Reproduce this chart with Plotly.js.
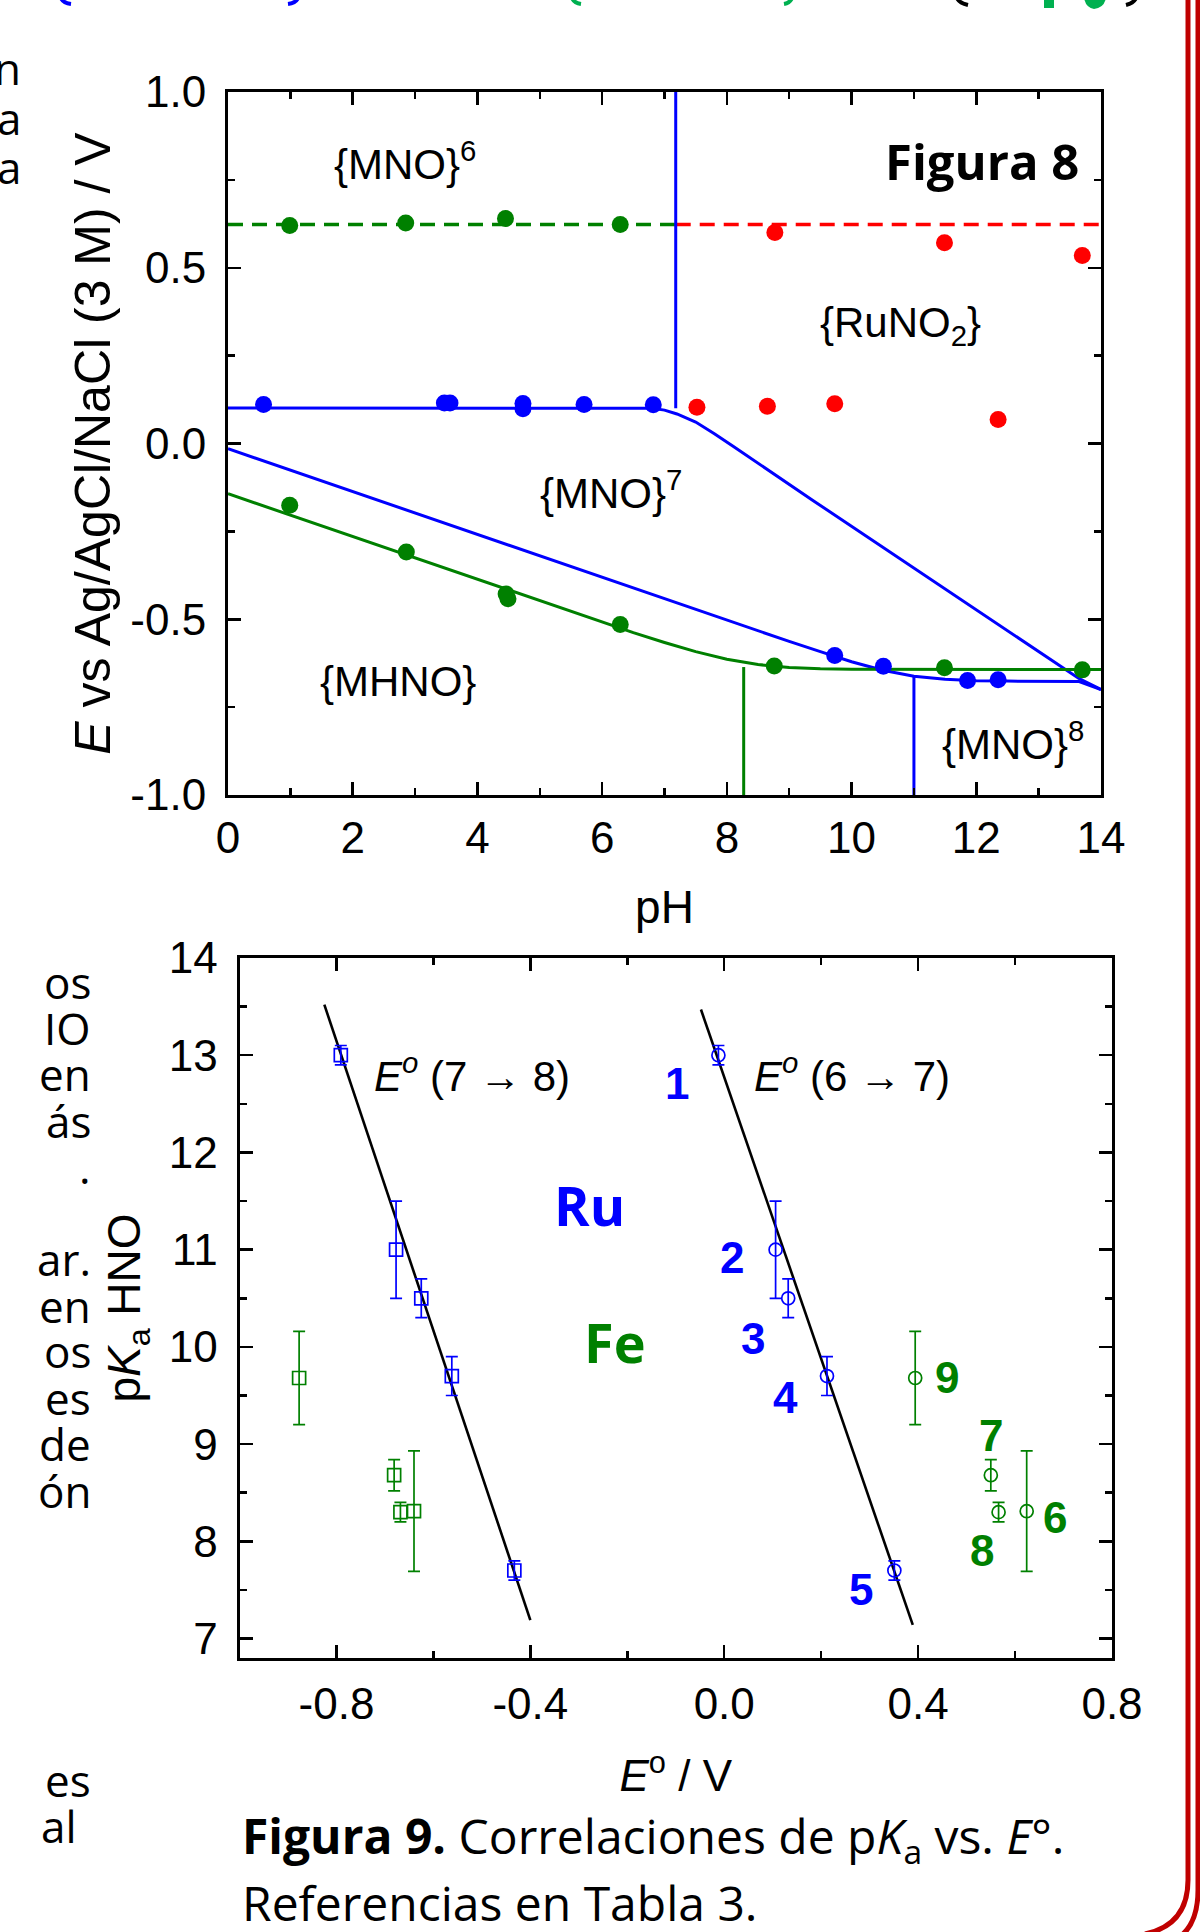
<!DOCTYPE html>
<html>
<head>
<meta charset="utf-8">
<script src="https://cdn.plot.ly/plotly-3.0.1.min.js"></script>
<style>html,body{margin:0;padding:0;background:#fff;}#chart{width:1200px;height:1932px;}</style>
</head>
<body>
<div id="chart"></div>
<script>
// ---------- Figura 8 data (pH vs E) ----------
const f8_xTicks = [0, 2, 4, 6, 8, 10, 12, 14];
const f8_xTickText = ['0', '2', '4', '6', '8', '10', '12', '14'];
const f8_yTicks = [-1, -0.5, 0, 0.5, 1];
const f8_yTickText = ['-1.0', '-0.5', '0.0', '0.5', '1.0'];

const mno6Dash_pH = [0, 7.18];
const mno6Dash_E = [0.623, 0.623];
const runo2Dash_pH = [7.18, 14];
const runo2Dash_E = [0.623, 0.623];

const blueVert1_pH = [7.18, 7.18];
const blueVert1_E = [1.0, 0.10];
const blueUpper_pH = [0, 6.8, 7.0, 7.2, 7.5, 7.8, 8.1, 8.43, 9.38, 13.64, 14];
const blueUpper_E = [0.101, 0.100, 0.095, 0.084, 0.061, 0.028, -0.008, -0.048, -0.162, -0.668, -0.700];
const blueLower_pH = [0, 2, 4, 6, 8, 9, 9.5, 10, 10.5, 11, 11.5, 12, 12.5, 13, 13.65, 14];
const blueLower_E = [-0.015, -0.137, -0.259, -0.381, -0.503, -0.563, -0.592, -0.621, -0.645, -0.662, -0.671, -0.675, -0.676, -0.677, -0.677, -0.700];
const blueVert2_pH = [11.0, 11.0];
const blueVert2_E = [-0.663, -1.0];

const greenLower_pH = [0, 1, 2, 3, 4, 5, 6, 6.5, 7, 7.5, 8, 8.5, 9, 9.5, 10, 11, 12, 13, 14];
const greenLower_E = [-0.143, -0.204, -0.265, -0.326, -0.387, -0.448, -0.509, -0.538, -0.566, -0.592, -0.614, -0.629, -0.637, -0.641, -0.642, -0.643, -0.643, -0.643, -0.643];
const greenVert_pH = [8.27, 8.27];
const greenVert_E = [-0.636, -1.0];

const greenUpperPts_pH = [0.99, 2.85, 4.45, 6.29];
const greenUpperPts_E = [0.620, 0.627, 0.640, 0.623];
const redUpperPts_pH = [8.77, 11.49, 13.70];
const redUpperPts_E = [0.600, 0.571, 0.535];
const redLowerPts_pH = [7.52, 8.65, 9.73, 12.35];
const redLowerPts_E = [0.103, 0.106, 0.113, 0.068];
const blueUpperPts_pH = [0.57, 3.47, 3.56, 4.73, 4.73, 5.71, 6.82];
const blueUpperPts_E = [0.111, 0.115, 0.115, 0.114, 0.099, 0.111, 0.110];
const blueLowerPts_pH = [9.73, 10.51, 11.86, 12.35];
const blueLowerPts_E = [-0.603, -0.634, -0.674, -0.672];
const greenLowerPts_pH = [0.99, 2.86, 4.46, 4.49, 6.29, 8.76, 11.49, 13.70];
const greenLowerPts_E = [-0.176, -0.309, -0.428, -0.442, -0.515, -0.633, -0.638, -0.644];

// ---------- Figura 9 data (E° vs pKa) ----------
const f9_xTicks = [-0.8, -0.4, 0, 0.4, 0.8];
const f9_xTickText = ['-0.8', '-0.4', '0.0', '0.4', '0.8'];
const f9_yTicks = [7, 8, 9, 10, 11, 12, 13, 14];
const f9_yTickText = ['7', '8', '9', '10', '11', '12', '13', '14'];

const ru_pKa = [13.0, 11.0, 10.5, 9.7, 7.7];
const ru_err = [0.1, 0.5, 0.2, 0.2, 0.1];
const ru_E78 = [-0.791, -0.677, -0.625, -0.562, -0.433];
const ru_E67 = [-0.012, 0.106, 0.132, 0.212, 0.351];
const fe_pKa = [9.68, 8.68, 8.30, 8.31];
const fe_err = [0.48, 0.16, 0.10, 0.62];
const fe_E78 = [-0.877, -0.681, -0.668, -0.640];
const fe_E67 = [0.394, 0.550, 0.566, 0.624];
const fit78_E = [-0.825, -0.400];
const fit78_pKa = [13.52, 7.19];
const fit67_E = [-0.048, 0.389];
const fit67_pKa = [13.47, 7.14];

const ruLabels = ['1', '2', '3', '4', '5'];
const ruLabel_E = [-0.098, 0.017, 0.060, 0.127, 0.283];
const ruLabel_pKa = [12.71, 10.92, 10.09, 9.48, 7.50];
const feLabels = ['9', '7', '6', '8'];
const feLabel_E = [0.46, 0.551, 0.682, 0.531];
const feLabel_pKa = [9.69, 9.09, 8.25, 7.91];

// page text fragments at the left edge (ends of the page's text lines)
const fragTop = ['n', 'a', 'a'];
const fragTopY = [68, 118, 167];
const fragLow = ['os', 'IO', 'en', 'ás', '.', 'ar.', 'en', 'os', 'es', 'de', 'ón', 'es', 'al'];
const fragLowY = [982, 1028, 1074, 1121, 1167, 1259, 1306, 1351, 1398, 1444, 1491, 1780, 1826];
const fragLowRight = [92, 92, 92, 92, 92, 92, 92, 92, 92, 92, 92, 92, 78];

// ---------- helpers ----------
const W = 1200, H = 1932;
const px = x => x / W;
const py = y => 1 - y / H;
const ARIAL = '"Liberation Sans", Arial, sans-serif';
const OPEN = '"Open Sans", "Noto Sans", sans-serif';
const BLUE = '#0000ff', GREEN = '#008000', RED = '#ff0000';

function line(x, y, color, xa, ya, dash, width) {
  return {x: x, y: y, type: 'scatter', mode: 'lines', xaxis: xa, yaxis: ya,
    line: {color: color, width: width || 3, dash: dash || 'solid'}, hoverinfo: 'skip'};
}
function dots(x, y, color) {
  return {x: x, y: y, type: 'scatter', mode: 'markers', xaxis: 'x', yaxis: 'y',
    marker: {color: color, size: 17, line: {width: 0}}};
}
function errPts(x, y, err, color, symbol) {
  return {x: x, y: y, type: 'scatter', mode: 'markers', xaxis: 'x2', yaxis: 'y2',
    marker: {symbol: symbol, size: 13, color: color, line: {color: color, width: 1.7}},
    error_y: {type: 'data', array: err, visible: true, color: color, thickness: 1.7, width: 6}};
}

const traces = [
  line(mno6Dash_pH, mno6Dash_E, GREEN, 'x', 'y', '15px,9px', 3.5),
  line(runo2Dash_pH, runo2Dash_E, RED, 'x', 'y', '15px,9px', 3.5),
  line(blueVert1_pH, blueVert1_E, BLUE, 'x', 'y'),
  line(blueUpper_pH, blueUpper_E, BLUE, 'x', 'y'),
  line(blueLower_pH, blueLower_E, BLUE, 'x', 'y'),
  line(blueVert2_pH, blueVert2_E, BLUE, 'x', 'y'),
  line(greenLower_pH, greenLower_E, GREEN, 'x', 'y'),
  line(greenVert_pH, greenVert_E, GREEN, 'x', 'y'),
  dots(greenUpperPts_pH, greenUpperPts_E, GREEN),
  dots(redUpperPts_pH, redUpperPts_E, RED),
  dots(redLowerPts_pH, redLowerPts_E, RED),
  dots(blueUpperPts_pH, blueUpperPts_E, BLUE),
  dots(blueLowerPts_pH, blueLowerPts_E, BLUE),
  dots(greenLowerPts_pH, greenLowerPts_E, GREEN),
  line(fit78_E, fit78_pKa, '#000000', 'x2', 'y2', 'solid', 2.6),
  line(fit67_E, fit67_pKa, '#000000', 'x2', 'y2', 'solid', 2.6),
  errPts(ru_E78, ru_pKa, ru_err, BLUE, 'square-open'),
  errPts(fe_E78, fe_pKa, fe_err, GREEN, 'square-open'),
  errPts(ru_E67, ru_pKa, ru_err, BLUE, 'circle-open'),
  errPts(fe_E67, fe_pKa, fe_err, GREEN, 'circle-open')
];

function axisBase(extra) {
  return Object.assign({
    showline: true, linecolor: '#000', linewidth: 3, mirror: 'allticks',
    ticks: 'inside', ticklen: 13, tickwidth: 2.5, tickcolor: '#000',
    showgrid: false, zeroline: false, tickmode: 'array',
    tickfont: {family: ARIAL, size: 44, color: '#000'},
    fixedrange: true
  }, extra);
}

const annotations = [];
function ann(text, x, y, xref, yref, size, color, family, xanchor, yanchor) {
  annotations.push({text: text, x: x, y: y, xref: xref, yref: yref, showarrow: false,
    font: {size: size, color: color || '#000', family: family || ARIAL},
    xanchor: xanchor || 'center', yanchor: yanchor || 'middle', borderpad: 0});
}
// Figura 8 labels
ann('{MNO}<sup>6</sup>', 1.69, 0.805, 'x', 'y', 42, '#000', ARIAL, 'left');
ann('<b>Figura 8</b>', 13.67, 0.805, 'x', 'y', 49, '#000', OPEN, 'right');
ann('{RuNO<sub>2</sub>}', 10.78, 0.336, 'x', 'y', 42);
ann('{MNO}<sup>7</sup>', 4.99, -0.131, 'x', 'y', 42, '#000', ARIAL, 'left');
ann('{MHNO}', 2.73, -0.677, 'x', 'y', 42);
ann('{MNO}<sup>8</sup>', 11.44, -0.845, 'x', 'y', 42, '#000', ARIAL, 'left');
// Figura 9 labels
ann('<i>E</i><sup><i>o</i></sup> (7 → 8)', -0.724, 12.82, 'x2', 'y2', 42, '#000', ARIAL, 'left');
ann('<i>E</i><sup><i>o</i></sup> (6 → 7)', 0.060, 12.82, 'x2', 'y2', 42, '#000', ARIAL, 'left');
ann('<b>Ru</b>', -0.353, 11.46, 'x2', 'y2', 54, BLUE, OPEN, 'left');
ann('<b>Fe</b>', -0.291, 10.05, 'x2', 'y2', 54, GREEN, OPEN, 'left');
ruLabels.forEach((t, i) => ann('<b>' + t + '</b>', ruLabel_E[i], ruLabel_pKa[i], 'x2', 'y2', 44, BLUE));
feLabels.forEach((t, i) => ann('<b>' + t + '</b>', feLabel_E[i], feLabel_pKa[i], 'x2', 'y2', 44, GREEN));
// caption
ann('<b>Figura 9.</b> Correlaciones de p<i>K</i><sub>a</sub> vs. <i>E</i>°.', px(241), py(1838), 'paper', 'paper', 48, '#000', OPEN, 'left');
ann('Referencias en Tabla 3.', px(241), py(1902), 'paper', 'paper', 48, '#000', OPEN, 'left');
// page fragments
fragTop.forEach((t, i) => ann(t, px(22), py(fragTopY[i]), 'paper', 'paper', 44, '#000', OPEN, 'right'));
fragLow.forEach((t, i) => ann(t, px(fragLowRight[i]), py(fragLowY[i]), 'paper', 'paper', 44, '#000', OPEN, 'right'));

// page decorations: red double border and the bottoms of the glyphs of the line above the figure
function P(x, y) { return px(x).toFixed(5) + ',' + py(y).toFixed(5); }
const shapes = [
  {type: 'path', xref: 'paper', yref: 'paper', line: {color: '#c00000', width: 5},
   path: 'M ' + P(1188, -5) + ' L ' + P(1188, 1880) + ' Q ' + P(1188, 1925) + ' ' + P(1145, 1934)},
  {type: 'path', xref: 'paper', yref: 'paper', line: {color: '#c00000', width: 5},
   path: 'M ' + P(1198, -5) + ' L ' + P(1198, 1890) + ' Q ' + P(1198, 1938) + ' ' + P(1160, 1945)}
];
const sliverDefs = [
  ['#0000ff', 'M ' + P(61, -2) + ' Q ' + P(63, 3) + ' ' + P(71, 4)],
  ['#0000ff', 'M ' + P(298, -2) + ' Q ' + P(296, 3) + ' ' + P(288, 4)],
  ['#00b050', 'M ' + P(572, -2) + ' Q ' + P(574, 3) + ' ' + P(581, 4)],
  ['#00b050', 'M ' + P(792, -2) + ' Q ' + P(790, 3) + ' ' + P(784, 4)],
  ['#000000', 'M ' + P(957, -2) + ' Q ' + P(959, 3) + ' ' + P(968, 5)],
  ['#000000', 'M ' + P(1136, -2) + ' Q ' + P(1134, 3) + ' ' + P(1126, 5)]
];
sliverDefs.forEach(d => shapes.push({type: 'path', xref: 'paper', yref: 'paper', line: {color: d[0], width: 4}, path: d[1]}));
shapes.push({type: 'rect', xref: 'paper', yref: 'paper', x0: px(1044), x1: px(1054), y0: py(8), y1: py(-2),
  line: {width: 0}, fillcolor: '#00b050'});
shapes.push({type: 'path', xref: 'paper', yref: 'paper', line: {width: 0}, fillcolor: '#00b050',
  path: 'M ' + P(1084, -2) + ' L ' + P(1106, -2) + ' Q ' + P(1104, 8) + ' ' + P(1094, 9) + ' Q ' + P(1086, 8) + ' ' + P(1084, -2) + ' Z'});

const layout = {
  width: W, height: H,
  margin: {l: 0, r: 0, t: 0, b: 0},
  paper_bgcolor: '#fff', plot_bgcolor: '#fff',
  showlegend: false,
  font: {family: ARIAL, color: '#000'},
  xaxis: axisBase({
    domain: [px(228), px(1101)], range: [0, 14], anchor: 'y',
    tickvals: f8_xTicks, ticktext: f8_xTickText, ticklabelstandoff: 2,
    minor: {tickvals: [1, 3, 5, 7, 9, 11, 13], ticks: 'inside', ticklen: 7, tickwidth: 2.5, tickcolor: '#000'},
    title: {text: 'pH', font: {family: ARIAL, size: 46, color: '#000'}, standoff: 31}
  }),
  yaxis: axisBase({
    domain: [py(795), py(92)], range: [-1, 1], anchor: 'x',
    tickvals: f8_yTicks, ticktext: f8_yTickText, ticklabelstandoff: 10,
    minor: {tickvals: [-0.75, -0.25, 0.25, 0.75], ticks: 'inside', ticklen: 7, tickwidth: 2.5, tickcolor: '#000'},
    title: {text: '\u00a0\u00a0\u00a0<i>E</i> vs Ag/AgCl/NaCl (3 M) / V', font: {family: ARIAL, size: 50, color: '#000'}, standoff: 4}
  }),
  xaxis2: axisBase({
    domain: [px(239.5), px(1112)], range: [-1.0, 0.8], anchor: 'y2',
    tickvals: f9_xTicks, ticktext: f9_xTickText, ticklabelstandoff: 5,
    minor: {tickvals: [-0.6, -0.2, 0.2, 0.6], ticks: 'inside', ticklen: 7, tickwidth: 2.5, tickcolor: '#000'},
    title: {text: '<i>E</i><sup>o</sup> / V', font: {family: ARIAL, size: 44, color: '#000'}, standoff: 34}
  }),
  yaxis2: axisBase({
    domain: [py(1658), py(958)], range: [6.8, 14], anchor: 'x2',
    tickvals: f9_yTicks, ticktext: f9_yTickText, ticklabelstandoff: 10,
    minor: {tickvals: [7.5, 8.5, 9.5, 10.5, 11.5, 12.5, 13.5], ticks: 'inside', ticklen: 7, tickwidth: 2.5, tickcolor: '#000'},
    title: {text: 'p<i>K</i><sub>a</sub> HNO', font: {family: ARIAL, size: 46, color: '#000'}, standoff: 14}
  }),
  annotations: annotations,
  shapes: shapes
};

Plotly.newPlot('chart', traces, layout, {staticPlot: true, displayModeBar: false});
</script>
</body>
</html>
